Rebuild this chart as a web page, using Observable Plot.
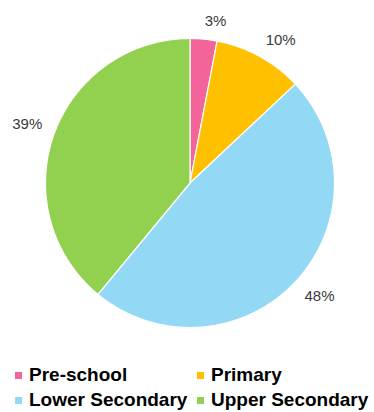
<!DOCTYPE html>
<html>
<head>
<meta charset="utf-8">
<script src="https://cdn.jsdelivr.net/npm/d3@7"></script>
<script src="https://cdn.jsdelivr.net/npm/@observablehq/plot@0.6"></script>
<style>
  html, body { margin: 0; padding: 0; background: #ffffff; }
  #wrap { position: relative; width: 374px; height: 412px; overflow: hidden; }
  #legend { position: absolute; left: 15px; top: 362px; font-family: "Liberation Sans", Arial, sans-serif; font-weight: bold; font-size: 19px; line-height: 25px; color: #000; }
  .row { display: flex; white-space: nowrap; }
  .item { width: 182px; }
  .sw { display: inline-block; width: 7px; height: 7px; margin-right: 7px; vertical-align: 2px; }
</style>
</head>
<body>
<div id="wrap">
  <div id="chart"></div>
  <div id="legend"></div>
</div>
<script>
const categories = ["Pre-school", "Primary", "Lower Secondary", "Upper Secondary"];
const shares = [3, 10, 48, 39];
const colors = ["#F3659A", "#FFC000", "#93D9F6", "#92D050"];

const W = 374, H = 352;
const CX = 189.5, CY = 182.5, RPX = 144.5; // pie placement in pixels
const data = categories.map((c, i) => ({key: c, value: shares[i]}));
const arcs = d3.pie().sort(null).value(d => d.value).startAngle(0).endAngle(2 * Math.PI)(data);

// Slice outlines (geometry in unit-radius space, y up)
const pts = [];
for (const a of arcs) {
  const k = a.data.key;
  pts.push({key: k, x: 0, y: 0});
  const n = Math.max(4, Math.ceil((a.endAngle - a.startAngle) / 0.01));
  for (let i = 0; i <= n; i++) {
    const t = a.startAngle + (a.endAngle - a.startAngle) * i / n;
    pts.push({key: k, x: Math.sin(t), y: Math.cos(t)});
  }
  pts.push({key: k, x: 0, y: 0});
}

// Label positions: nearest box corner on a circle outside the pie
const R = 157 / RPX, b = 5.5 / RPX;
const labels = arcs.map(a => {
  const m = (a.startAngle + a.endAngle) / 2;
  const ux = Math.sin(m), uy = Math.cos(m);
  return {text: a.data.value + "%", x: R * ux, y: R * uy + Math.sign(uy) * b, right: ux >= 0};
});

const chart = Plot.plot({
  width: W,
  height: H,
  margin: 0,
  x: {domain: [-CX / RPX, (W - CX) / RPX], axis: null},
  y: {domain: [-(H - CY) / RPX, CY / RPX], axis: null},
  color: {domain: categories, range: colors},
  style: {background: "#ffffff", fontFamily: "'Liberation Sans', Arial, sans-serif", overflow: "visible"},
  marks: [
    Plot.line(pts, {x: "x", y: "y", z: "key", fill: "key", stroke: "#ffffff", strokeWidth: 1.2, curve: "linear"}),
    Plot.text(labels.filter(d => d.right), {x: "x", y: "y", text: "text", textAnchor: "start", lineAnchor: "middle", fontSize: 15, fill: "#3a3a3a"}),
    Plot.text(labels.filter(d => !d.right), {x: "x", y: "y", text: "text", textAnchor: "end", lineAnchor: "middle", fontSize: 15, fill: "#3a3a3a"})
  ]
});
document.getElementById("chart").appendChild(chart);

// Legend below the chart (two rows of two)
const legend = document.getElementById("legend");
for (let r = 0; r < 2; r++) {
  const row = document.createElement("div");
  row.className = "row";
  for (let c = 0; c < 2; c++) {
    const i = r * 2 + c;
    const item = document.createElement("div");
    item.className = "item";
    const sw = document.createElement("span");
    sw.className = "sw";
    sw.style.background = colors[i];
    item.appendChild(sw);
    item.appendChild(document.createTextNode(categories[i]));
    row.appendChild(item);
  }
  legend.appendChild(row);
}
</script>
</body>
</html>
